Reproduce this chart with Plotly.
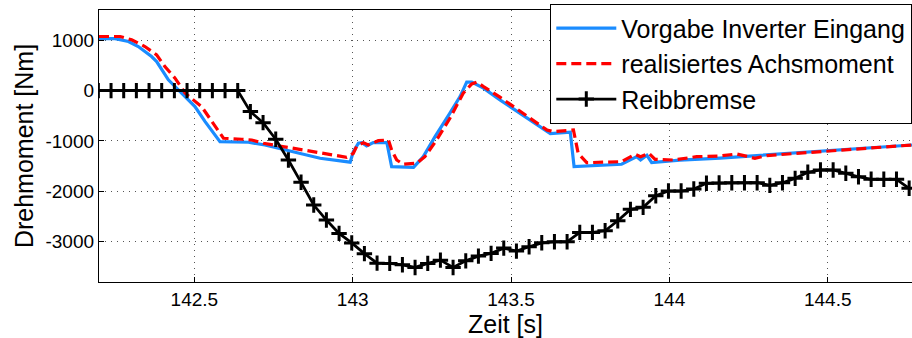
import plotly.graph_objects as go

# ---------------- data ----------------
blue_t = [142.199, 142.250, 142.292, 142.323, 142.365, 142.381, 142.418, 142.449, 142.502,
          142.534, 142.581, 142.671, 142.723, 142.897, 142.992, 143.002, 143.018, 143.029,
          143.044, 143.065, 143.108, 143.123, 143.192, 143.223, 143.260, 143.307, 143.339,
          143.360, 143.376, 143.413, 143.465, 143.624, 143.687, 143.699, 143.849, 143.897,
          143.909, 143.929, 143.944, 144.033, 144.160, 144.766]
blue_v = [1032, 1032, 975, 875, 676, 577, 213, 14, -318,
          -616, -1014, -1026, -1080, -1344, -1421, -1213, -1046, -1034,
          -1099, -1034, -1034, -1511, -1523, -1312, -914, -449, -119,
          170, 170, 48, -185, -855, -825, -1511, -1463, -1312,
          -1378, -1285, -1431, -1380, -1340, -1080]

red_t = [142.199, 142.266, 142.302, 142.344, 142.381, 142.407, 142.439, 142.471, 142.523,
         142.555, 142.592, 142.650, 142.681, 142.718, 142.981, 143.002, 143.013, 143.034,
         143.049, 143.081, 143.113, 143.123, 143.139, 143.160, 143.202, 143.228, 143.265,
         143.307, 143.349, 143.376, 143.392, 143.413, 143.465, 143.613, 143.634, 143.697,
         143.712, 143.739, 143.849, 143.892, 143.909, 143.935, 143.955, 144.012, 144.086,
         144.160, 144.213, 144.270, 144.307, 144.766]
red_v = [1074, 1074, 1008, 875, 710, 477, 247, -52, -318,
         -616, -946, -966, -980, -1046, -1324, -1245, -1100, -1034,
         -1080, -994, -980, -1179, -1378, -1463, -1443, -1312, -980,
         -549, -52, 133, 170, 80, -131, -781, -815, -781,
         -1245, -1431, -1411, -1265, -1312, -1245, -1364, -1378, -1312,
         -1298, -1258, -1344, -1290, -1080]

black_t = [142.197, 142.237, 142.277, 142.317, 142.357, 142.397, 142.437, 142.477, 142.517,
           142.557, 142.597, 142.637, 142.677, 142.717, 142.757, 142.797, 142.837, 142.877,
           142.917, 142.957, 142.997, 143.037, 143.077, 143.117, 143.157, 143.197, 143.237,
           143.277, 143.317, 143.357, 143.397, 143.437, 143.477, 143.517, 143.557, 143.597,
           143.637, 143.677, 143.717, 143.757, 143.797, 143.837, 143.877, 143.917, 143.957,
           143.997, 144.037, 144.077, 144.117, 144.157, 144.197, 144.237, 144.277, 144.317,
           144.357, 144.397, 144.437, 144.477, 144.517, 144.557, 144.597, 144.637, 144.677,
           144.717, 144.757]
black_v = [0, 0, 0, 0, 0, 0, 0, 0, 0, 0, 0, 0,
           -417, -636, -966, -1378, -1821, -2272, -2570, -2835, -3024, -3237,
           -3426, -3431, -3459, -3511, -3431, -3366, -3511, -3380, -3286, -3232,
           -3127, -3187, -3101, -3022, -3002, -3002, -2815, -2815, -2783, -2584,
           -2358, -2318, -2087, -1994, -1994, -1954, -1841, -1835, -1829, -1829,
           -1829, -1881, -1829, -1742, -1622, -1576, -1576, -1642, -1710, -1761,
           -1761, -1761, -1940]

names = ["Vorgabe Inverter Eingang", "realisiertes Achsmoment", "Reibbremse"]
x_ticks = [142.5, 143, 143.5, 144, 144.5]
x_tick_text = ["142.5", "143", "143.5", "144", "144.5"]
y_ticks = [1000, 0, -1000, -2000, -3000]
y_tick_text = ["1000", "0", "-1000", "-2000", "-3000"]

FONT = "Liberation Sans, Arial, Helvetica, sans-serif"

fig = go.Figure()
fig.add_trace(go.Scatter(x=blue_t, y=blue_v, mode="lines", name=names[0],
                         line=dict(color="#1a8cff", width=3.2)))
fig.add_trace(go.Scatter(x=red_t, y=red_v, mode="lines", name=names[1],
                         line=dict(color="#ff0000", width=3.2, dash="10px,5px")))
fig.add_trace(go.Scatter(x=black_t, y=black_v, mode="lines+markers", name=names[2],
                         line=dict(color="black", width=2.8),
                         marker=dict(symbol="cross-thin", size=11,
                                     line=dict(color="black", width=3))))

axis_common = dict(
    showline=True, linecolor="black", linewidth=1.3,
    ticks="inside", ticklen=5, tickcolor="black", tickwidth=1,
    showgrid=True, gridcolor="#555555", gridwidth=1, griddash="1px,5px",
    zeroline=False, automargin=False,
    tickfont=dict(family=FONT, size=19, color="black"),
)

fig.update_layout(
    width=912, height=338,
    margin=dict(l=99, r=0, t=10, b=56),
    paper_bgcolor="white", plot_bgcolor="white",
    font=dict(family=FONT, color="black"),
    showlegend=True,
    legend=dict(x=1, xanchor="right", y=1.022, yanchor="top",
                bgcolor="white", bordercolor="black", borderwidth=1.3,
                font=dict(family=FONT, size=25, color="black"),
                tracegroupgap=0, itemwidth=60),
    xaxis=dict(range=[142.199, 144.766], tickvals=x_ticks, ticktext=x_tick_text,
               mirror=True,
               title=dict(text="Zeit [s]", font=dict(family=FONT, size=25), standoff=0),
               **axis_common),
    yaxis=dict(range=[-3800, 1600], tickvals=y_ticks, ticktext=y_tick_text,
               mirror=False,
               title=dict(text="Drehmoment [Nm]", font=dict(family=FONT, size=25), standoff=4),
               **axis_common),
)

fig.write_html("out.html",
               config={"displayModeBar": False},
               post_script="document.body.style.margin='0';document.body.style.overflow='hidden';")
